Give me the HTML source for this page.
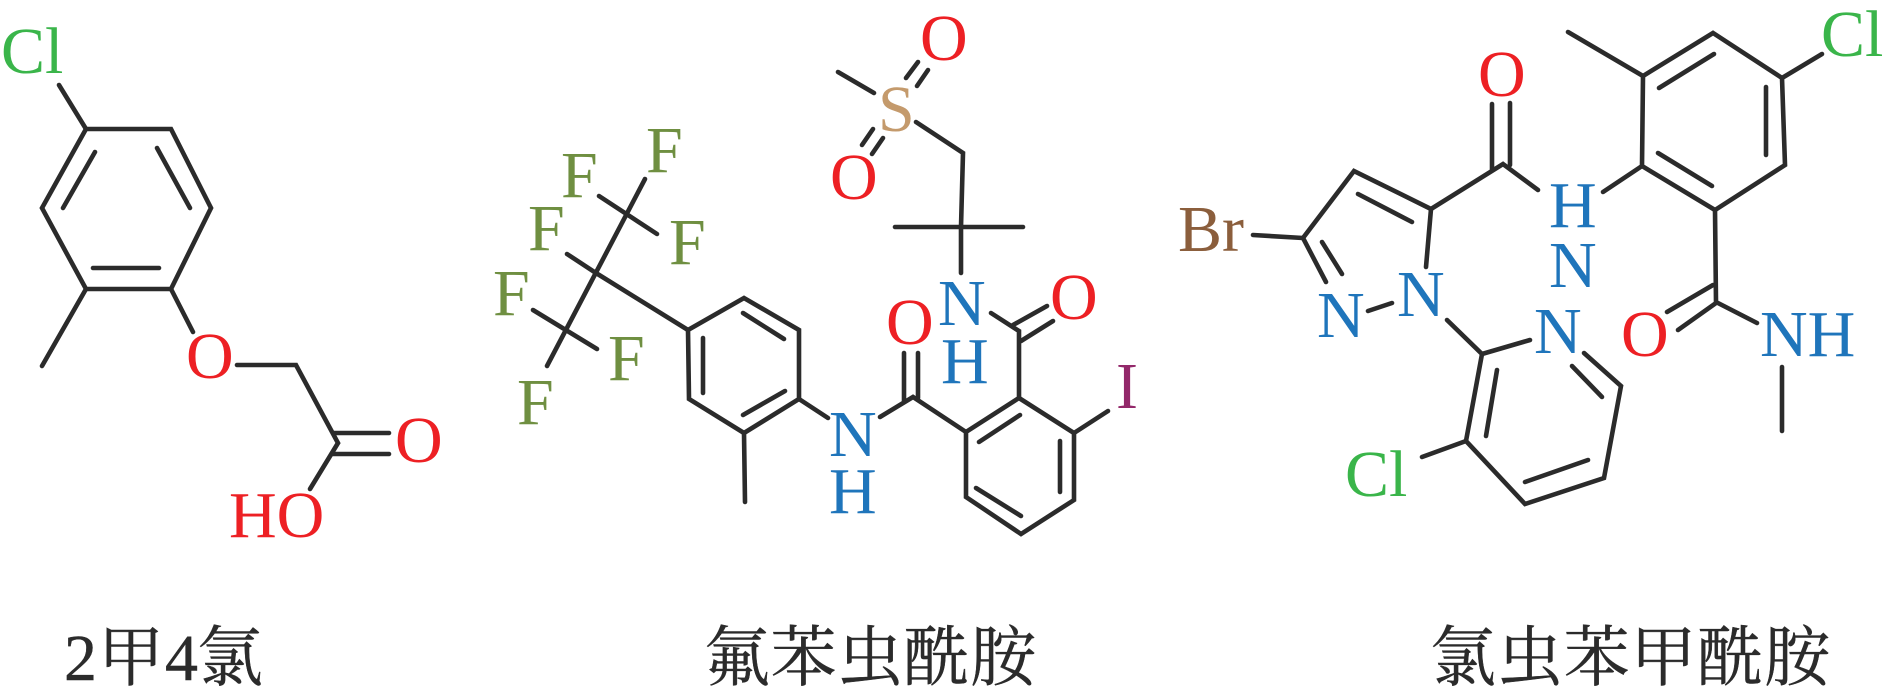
<!DOCTYPE html>
<html><head><meta charset="utf-8">
<style>
html,body{margin:0;padding:0;background:#fff;width:1890px;height:700px;overflow:hidden}
svg{display:block}
text{font-family:"Liberation Serif","Noto Serif CJK SC",serif;font-size:66px}
.g{fill:#3ab54a}.r{fill:#ed2024}.b{fill:#1f75bb}.f{fill:#6f8f41}.s{fill:#c49a6c}.br{fill:#8b5e3c}.i{fill:#93286a}
.c{fill:#2b2b2b;stroke:#2b2b2b;stroke-width:.4px}
</style></head><body>
<svg width="1890" height="700" viewBox="0 0 1890 700" xmlns="http://www.w3.org/2000/svg">
<rect width="1890" height="700" fill="#fff"/>
<g fill="none" stroke="#2b2b2b" stroke-width="4.6" stroke-linecap="round" stroke-linejoin="miter">
<!-- molecule 1 -->
<path d="M86 129L171 129L211 208L171 289L86 289L42 208Z"/>
<path d="M95 152L63 208M157 148L190 208M93 268L159 268"/>
<path d="M59 85L86 129M86 289L42 366M171 289L193 332"/>
<path d="M237 365L296 365L338 443L310 489"/>
<path d="M333 433L389 433M333 454L389 454"/>
<!-- molecule 2 -->
<path d="M688 330L744 298L799 330L799 399L744 433L689 399Z"/>
<path d="M743 313L784 339M703 338L703 393M743 415L785 391"/>
<path d="M744 433L745 502M799 399L828 418"/>
<path d="M688 330L596 273L567 254M645 179L547 366M599 196L657 234M533 310L597 349"/>
<path d="M838 72L874 93M906 78L918 62M917 86L928 70M862 145L873 129M872 154L883 138"/>
<path d="M916 122L963 153L961 227L961 273M895 227L1023 227"/>
<path d="M991 313L1019 331L1019 398M1013 325L1047 306M1021 341L1053 321"/>
<path d="M1019 398L1074 433L1074 500L1021 534L966 497L966 432Z"/>
<path d="M979 442L1020 415M1060 441L1060 492M976 488L1021 516"/>
<path d="M966 432L913 397L880 417M904 353L904 402M918 353L918 398"/>
<path d="M1074 433L1108 411"/>
<!-- molecule 3 -->
<path d="M1426 267L1431 209L1354 171L1303 238L1326 282"/>
<path d="M1358 194L1412 222M1322 242L1342 274"/>
<path d="M1431 209L1503 164L1538 190M1492 104L1492 170M1510 103L1510 165"/>
<path d="M1253 235L1303 238M1368 311L1392 303M1447 320L1482 354L1530 340"/>
<path d="M1482 354L1466 441L1525 504L1604 478L1621 386L1584 353"/>
<path d="M1497 370L1486 436M1525 482L1588 460M1572 366L1602 397M1422 457L1466 441"/>
<path d="M1603 192L1642 166"/>
<path d="M1642 166L1643 76L1713 33L1782 78L1785 165L1715 210Z"/>
<path d="M1568 32L1643 76M1659 88L1714 54M1766 87L1766 155M1658 153L1712 186M1782 78L1822 54"/>
<path d="M1715 210L1716 302L1757 323M1713 285L1667 312M1716 303L1678 330M1782 367L1782 431"/>
</g>
<!-- molecule 1 labels -->
<text x="1" y="73" class="g">Cl</text>
<text x="186" y="378" class="r">O</text>
<text x="395" y="462" class="r">O</text>
<text x="229" y="537" class="r">HO</text>
<text x="64" y="680" class="c">2</text>
<text x="98" y="680" class="c">甲</text>
<text x="165" y="680" class="c">4</text>
<text x="197" y="680" class="c">氯</text>
<!-- molecule 2 labels -->
<text x="646" y="172" class="f">F</text>
<text x="561" y="197" class="f">F</text>
<text x="528" y="250" class="f">F</text>
<text x="669" y="264" class="f">F</text>
<text x="493" y="315" class="f">F</text>
<text x="608" y="380" class="f">F</text>
<text x="517" y="424" class="f">F</text>
<text x="920" y="60" class="r">O</text>
<text x="878" y="131" class="s">S</text>
<text x="830" y="199" class="r">O</text>
<text x="938" y="325" class="b">N</text>
<text x="941" y="383" class="b">H</text>
<text x="1050" y="319" class="r">O</text>
<text x="886" y="344" class="r">O</text>
<text x="1116" y="408" class="i">I</text>
<text x="829" y="456" class="b">N</text>
<text x="829" y="513" class="b">H</text>
<text x="704" y="680" class="c" style="letter-spacing:.5px">氟苯虫酰胺</text>
<!-- molecule 3 labels -->
<text x="1478" y="96" class="r">O</text>
<text x="1178" y="251" class="br">Br</text>
<text x="1317" y="337" class="b">N</text>
<text x="1397" y="316" class="b">N</text>
<text x="1345" y="496" class="g">Cl</text>
<text x="1534" y="353" class="b">N</text>
<text x="1549" y="227" class="b">H</text>
<text x="1549" y="287" class="b">N</text>
<text x="1821" y="56" class="g">Cl</text>
<text x="1621" y="356" class="r">O</text>
<text x="1760" y="356" class="b">NH</text>
<text x="1430" y="680" class="c" style="letter-spacing:.8px">氯虫苯甲酰胺</text>
</svg>
</body></html>
